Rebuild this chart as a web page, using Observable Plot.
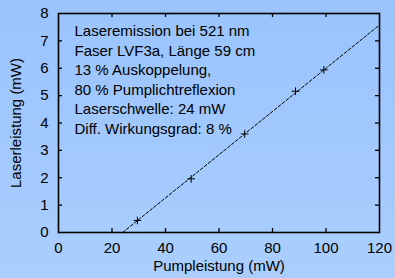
<!DOCTYPE html>
<html><head><meta charset="utf-8">
<script src="https://cdn.jsdelivr.net/npm/d3@7"></script>
<script src="https://cdn.jsdelivr.net/npm/@observablehq/plot@0.6"></script>
<style>
html,body{margin:0;padding:0;width:395px;height:278px;overflow:hidden;background:linear-gradient(#9ac3fd,#aacffe);}
svg{display:block;}
</style></head><body><div id="chart"></div>
<script>
const pump = [29.5, 49.6, 69.6, 88.6, 99.2];
const laser = [0.44, 1.96, 3.6, 5.16, 5.94];
const fitPump = [24, 120];
const fitLaser = [0, 7.58];
const xTickLabels = [0, 20, 40, 60, 80, 100, 120];
const yTickLabels = [0, 1, 2, 3, 4, 5, 6, 7, 8];
const xInnerTicks = [20, 40, 60, 80, 100];
const yInnerTicks = [1, 2, 3, 4, 5, 6, 7];
const notes = [
  "Laseremission bei 521 nm",
  "Faser LVF3a, Länge 59 cm",
  "13 % Auskoppelung,",
  "80 % Pumplichtreflexion",
  "Laserschwelle: 24 mW",
  "Diff. Wirkungsgrad: 8 %"
];
const xLabel = "Pumpleistung (mW)";
const yLabel = "Laserleistung (mW)";

const W = 395, H = 278, mL = 58, mR = 16, mT = 13, mB = 46;
const iw = W - mL - mR, ih = H - mT - mB, tk = 4;
const font = "'Liberation Sans', Arial, Helvetica, sans-serif";
const fs = 15;

const points = pump.map((p, i) => ({p, l: laser[i]}));
const fit = fitPump.map((p, i) => ({p, l: fitLaser[i]}));

const chart = Plot.plot({
  width: W, height: H,
  marginLeft: mL, marginRight: mR, marginTop: mT, marginBottom: mB,
  style: {background: "transparent", fontFamily: font, fontSize: fs + "px", color: "black", overflow: "visible"},
  x: {domain: [0, 120]},
  y: {domain: [0, 8]},
  marks: [
    Plot.axisX(xTickLabels, {tickSize: 0, tickPadding: 10, fontSize: fs, label: null}),
    Plot.axisY(yTickLabels, {tickSize: 0, tickPadding: 10, fontSize: fs, label: null}),
    Plot.tickX(xInnerTicks, {x: d => d, insetTop: ih - tk, stroke: "black", strokeWidth: 1.3}),
    Plot.tickX(xInnerTicks, {x: d => d, insetBottom: ih - tk, stroke: "black", strokeWidth: 1.3}),
    Plot.tickY(yInnerTicks, {y: d => d, insetRight: iw - tk, stroke: "black", strokeWidth: 1.3}),
    Plot.tickY(yInnerTicks, {y: d => d, insetLeft: iw - tk, stroke: "black", strokeWidth: 1.3}),
    Plot.line(fit, {x: "p", y: "l", stroke: "black", strokeWidth: 1, strokeDasharray: "3,2"}),
    Plot.dot(points, {x: "p", y: "l", symbol: "plus", r: 2.6, stroke: "black", strokeWidth: 1}),
    Plot.frame({stroke: "black", strokeWidth: 1.6}),
    Plot.text([notes.join("\n")], {frameAnchor: "top-left", lineAnchor: "top", textAnchor: "start", dx: 16, dy: 9, lineHeight: 1.3, fontSize: fs, fill: "black"}),
    Plot.text([xLabel], {frameAnchor: "bottom", dy: 38, fontSize: fs, fill: "black"}),
    Plot.text([yLabel], {frameAnchor: "left", textAnchor: "middle", dx: -42, rotate: -90, fontSize: fs, fill: "black"})
  ]
});
document.getElementById("chart").appendChild(chart);
</script></body></html>
